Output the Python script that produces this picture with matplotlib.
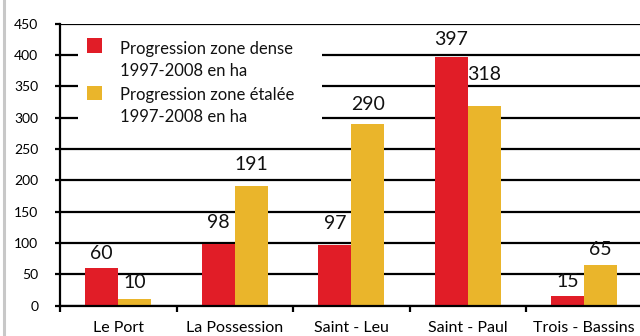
import matplotlib
matplotlib.use("Agg")
import matplotlib.pyplot as plt
from matplotlib.patches import Rectangle
from matplotlib.lines import Line2D
import numpy as np

# Communes and surface growth (ha) between 1997 and 2008
communes = ["Le Port", "La Possession", "Saint - Leu", "Saint - Paul", "Trois - Bassins"]
zone_dense = [60, 98, 97, 397, 15]
zone_etalee = [10, 191, 290, 318, 65]
series_labels = [["Progression zone dense", "1997-2008 en ha"],
                 ["Progression zone étalée", "1997-2008 en ha"]]
y_ticks = [0, 50, 100, 150, 200, 250, 300, 350, 400, 450]

RED = "#E11D27"
YELLOW = "#EAB52B"
FONT = "Lato"

W, H = 640, 336
fig = plt.figure(figsize=(W / 100, H / 100), dpi=100)
fig.patch.set_facecolor("white")


def fx(px):
    return px / W


def fy(py):
    return 1 - py / H


# axes: left spine at x=60 px, zero line at y=305.7 px, 450 at y=23.6 px
ax_left, ax_right = 60, 642.5
ax_top, ax_bot = 23.6, 305.7
ax = fig.add_axes([fx(ax_left), fy(ax_bot), (ax_right - ax_left) / W, (ax_bot - ax_top) / H])
ax.set_facecolor("white")

x = np.arange(len(communes))
bw = 0.283
b1 = ax.bar(x - bw / 2, zone_dense, width=bw, color=RED, zorder=2)
b2 = ax.bar(x + bw / 2, zone_etalee, width=bw, color=YELLOW, zorder=2)

ax.set_xlim(-0.5, len(communes) - 0.5)
ax.set_ylim(0, 450)

# value labels (offset in points above each bar)
off_dense = [4.5, 9.5, 9.5, 6.0, 4.5]
off_etalee = [6.0, 9.5, 8.0, 17.0, 5.0]
for bars, vals, offs in ((b1, zone_dense, off_dense), (b2, zone_etalee, off_etalee)):
    for r, v, o in zip(bars, vals, offs):
        ax.annotate(str(v), (r.get_x() + r.get_width() / 2, v), xytext=(0, o),
                    textcoords="offset points", ha="center", va="bottom",
                    fontsize=14, family=FONT, color="#111111", zorder=4)

# y axis with full-width black gridlines
ax.set_yticks(y_ticks)
ax.set_yticklabels([str(t) for t in y_ticks], family=FONT, fontsize=10)
ax.yaxis.grid(True, color="black", linewidth=1.6)
ax.set_axisbelow(True)
ax.tick_params(axis="y", length=3.6, width=1.6, color="black", pad=12)

# x axis: ticks between groups, labels centred under groups
ax.set_xticks(np.arange(-0.5, len(communes), 1.0))
ax.set_xticklabels([])
ax.set_xticks(x, minor=True)
ax.set_xticklabels(communes, minor=True, family=FONT, fontsize=11.5)
ax.tick_params(axis="x", which="major", length=4.5, width=1.6, color="black", direction="out")
ax.tick_params(axis="x", which="minor", length=0, pad=11)

for side in ("top", "right"):
    ax.spines[side].set_visible(False)
for side in ("left", "bottom"):
    ax.spines[side].set_linewidth(1.6)
    ax.spines[side].set_color("black")

# legend drawn on a white panel covering the gridlines
panel = Rectangle((fx(78), fy(146)), fx(322) - fx(78), fy(30) - fy(146),
                  transform=fig.transFigure, facecolor="white", edgecolor="none", zorder=3)
ax.add_patch(panel)
swatch_tops = [38.5, 86]
line1_base = [54, 100]
for color, top, base, lines in zip((RED, YELLOW), swatch_tops, line1_base, series_labels):
    ax.add_patch(Rectangle((fx(87.3), fy(top + 14.4)), fx(14.4), 14.4 / H,
                           transform=fig.transFigure, facecolor=color, edgecolor="none", zorder=4))
    for k, line in enumerate(lines):
        ax.text(fx(120), fy(base + 22 * k), line, transform=fig.transFigure,
                ha="left", va="baseline", fontsize=12, family=FONT, color="#111111", zorder=5)

# light frame line on the left edge
fig.add_artist(Line2D([fx(3.5), fx(3.5)], [0, 1], transform=fig.transFigure,
                      color="#c8c8c8", linewidth=2.2))

fig.savefig("out.png", dpi=100, facecolor="white")
